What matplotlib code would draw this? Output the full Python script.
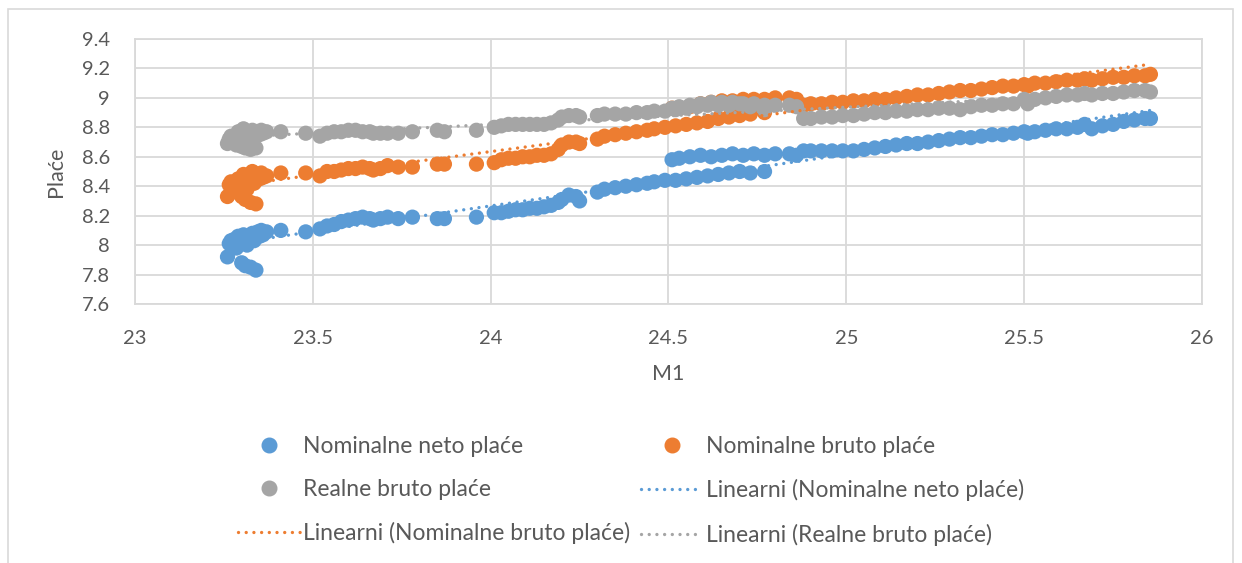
import numpy as np
import matplotlib
matplotlib.use('Agg')
import matplotlib.pyplot as plt
from matplotlib.lines import Line2D
from matplotlib.patches import Rectangle

plt.rcParams['font.family'] = ['Lato', 'DejaVu Sans']

# M1 (x) and the three wage series (y)
m1 = [23.26, 23.265, 23.27, 23.28, 23.285, 23.29, 23.30, 23.30, 23.305, 23.31, 23.315,
      23.32, 23.325, 23.33, 23.335, 23.34, 23.345, 23.35, 23.355, 23.36, 23.37,
      23.41, 23.48, 23.52, 23.54, 23.56, 23.58, 23.60, 23.62, 23.64, 23.66, 23.67,
      23.69, 23.71, 23.74, 23.78, 23.85, 23.87, 23.96,
      24.01, 24.03, 24.05, 24.07, 24.09, 24.11, 24.13, 24.15, 24.17, 24.19, 24.20,
      24.22, 24.24, 24.25, 24.30, 24.32, 24.35, 24.38, 24.41, 24.44, 24.46, 24.49,
      24.52, 24.55, 24.58, 24.61, 24.64, 24.67, 24.70, 24.73, 24.77,
      24.51, 24.53, 24.56, 24.59, 24.62, 24.65, 24.68, 24.71, 24.74, 24.77, 24.80,
      24.84, 24.86,
      24.88, 24.90, 24.93, 24.96, 24.99, 25.02, 25.05, 25.08, 25.11, 25.14, 25.17,
      25.20, 25.23, 25.26, 25.29, 25.32, 25.35, 25.38, 25.41, 25.44, 25.47, 25.50,
      25.51, 25.53, 25.56, 25.59, 25.62, 25.65, 25.67, 25.69, 25.72, 25.75, 25.78,
      25.81, 25.84, 25.855]

neto = [7.92, 8.01, 8.03, 8.04, 7.98, 8.06, 7.88, 8.02, 8.07, 7.86, 8.00,
        8.05, 7.85, 8.08, 8.03, 7.83, 8.09, 8.06, 8.10, 8.07, 8.09,
        8.10, 8.09, 8.11, 8.13, 8.14, 8.16, 8.17, 8.18, 8.19, 8.18, 8.17,
        8.18, 8.19, 8.18, 8.19, 8.18, 8.18, 8.19,
        8.22, 8.22, 8.23, 8.24, 8.24, 8.25, 8.25, 8.26, 8.27, 8.29, 8.31,
        8.34, 8.33, 8.30, 8.36, 8.38, 8.39, 8.40, 8.41, 8.42, 8.43, 8.44,
        8.44, 8.45, 8.46, 8.47, 8.48, 8.49, 8.50, 8.49, 8.50,
        8.58, 8.59, 8.60, 8.61, 8.60, 8.61, 8.62, 8.61, 8.62, 8.61, 8.62,
        8.62, 8.61,
        8.64, 8.64, 8.64, 8.64, 8.64, 8.64, 8.65, 8.66, 8.67, 8.68, 8.69,
        8.69, 8.70, 8.71, 8.72, 8.73, 8.73, 8.74, 8.75, 8.75, 8.76, 8.77,
        8.76, 8.77, 8.78, 8.79, 8.79, 8.80, 8.82, 8.79, 8.81, 8.82, 8.84,
        8.85, 8.86, 8.86]

bruto = [8.33, 8.41, 8.43, 8.40, 8.36, 8.45, 8.33, 8.39, 8.48, 8.31, 8.38,
         8.44, 8.29, 8.50, 8.42, 8.28, 8.47, 8.45, 8.49, 8.46, 8.47,
         8.49, 8.49, 8.47, 8.50, 8.50, 8.51, 8.52, 8.52, 8.53, 8.52, 8.51,
         8.52, 8.54, 8.53, 8.53, 8.55, 8.55, 8.55,
         8.56, 8.58, 8.59, 8.59, 8.60, 8.60, 8.61, 8.61, 8.62, 8.65, 8.68,
         8.70, 8.70, 8.69, 8.72, 8.74, 8.75, 8.76, 8.77, 8.78, 8.79, 8.80,
         8.81, 8.82, 8.83, 8.84, 8.86, 8.87, 8.88, 8.89, 8.90,
         8.93, 8.93, 8.94, 8.96, 8.97, 8.98, 8.98, 8.99, 8.99, 8.99, 9.00,
         9.00, 8.99,
         8.95, 8.96, 8.96, 8.97, 8.97, 8.98, 8.98, 8.99, 8.99, 9.00, 9.01,
         9.02, 9.02, 9.03, 9.04, 9.05, 9.05, 9.06, 9.07, 9.08, 9.08, 9.09,
         9.08, 9.10, 9.10, 9.11, 9.12, 9.12, 9.13, 9.12, 9.13, 9.14, 9.14,
         9.15, 9.15, 9.16]

realne = [8.69, 8.72, 8.74, 8.70, 8.68, 8.77, 8.67, 8.73, 8.79, 8.66, 8.72,
          8.76, 8.65, 8.78, 8.74, 8.66, 8.77, 8.75, 8.78, 8.76, 8.77,
          8.77, 8.76, 8.74, 8.76, 8.77, 8.77, 8.78, 8.78, 8.77, 8.77, 8.76,
          8.76, 8.76, 8.76, 8.77, 8.78, 8.77, 8.78,
          8.80, 8.81, 8.82, 8.82, 8.82, 8.82, 8.82, 8.82, 8.83, 8.85, 8.87,
          8.88, 8.88, 8.87, 8.88, 8.89, 8.89, 8.89, 8.90, 8.90, 8.91, 8.91,
          8.92, 8.93, 8.94, 8.95, 8.95, 8.95, 8.96, 8.94, 8.92,
          8.93, 8.94, 8.95, 8.96, 8.97, 8.97, 8.97, 8.96, 8.96, 8.95, 8.95,
          8.95, 8.94,
          8.86, 8.86, 8.87, 8.87, 8.88, 8.88, 8.89, 8.90, 8.90, 8.91, 8.91,
          8.92, 8.92, 8.93, 8.93, 8.92, 8.94, 8.95, 8.95, 8.96, 8.96, 8.99,
          8.96, 8.99, 9.00, 9.01, 9.02, 9.02, 9.03, 9.02, 9.03, 9.03, 9.04,
          9.05, 9.05, 9.04]

names = ['Nominalne neto plaće', 'Nominalne bruto plaće', 'Realne bruto plaće']
colors = ['#5B9BD5', '#ED7D31', '#A5A5A5']
x_ticks = [23, 23.5, 24, 24.5, 25, 25.5, 26]
y_ticks = [7.6, 7.8, 8, 8.2, 8.4, 8.6, 8.8, 9, 9.2, 9.4]

txt = '#595959'
grid = '#D9D9D9'
dots = (0, (0.01, 2.3))

fig = plt.figure(figsize=(12.42, 5.63), dpi=100)
ax = fig.add_axes([135/1242, 1-304/563, (1202-135)/1242, (304-39)/563])

x = np.array(m1)
series = [neto, bruto, realne]
for ys, c in zip(series, colors):
    ax.scatter(x, ys, s=120, color=c, edgecolors='none', zorder=3)

for ys, c in zip(series, colors):
    k, b = np.polyfit(x, ys, 1)
    xs = np.array([x.min(), x.max()])
    ax.plot(xs, k*xs + b, color=c, lw=2.4, linestyle=dots,
            dash_capstyle='round', zorder=4)

ax.set_xlim(23, 26)
ax.set_ylim(7.6, 9.4)
ax.set_xticks(x_ticks)
ax.set_yticks(y_ticks)
ax.set_xticklabels(['%g' % t for t in x_ticks])
ax.set_yticklabels(['%g' % t for t in y_ticks])
ax.tick_params(length=0, labelsize=14.5, colors=txt)
ax.tick_params(axis='y', pad=18)
ax.tick_params(axis='x', pad=19)
ax.grid(True, color=grid, lw=1.3)
ax.set_axisbelow(True)
for s in ax.spines.values():
    s.set_color(grid)
    s.set_linewidth(1.3)
ax.set_xlabel('M1', fontsize=15.5, color=txt, labelpad=12)
ax.set_ylabel('Plaće', fontsize=15.5, color=txt, labelpad=11)

# legend, filled column by column
mk = [Line2D([], [], ls='none', marker='o', ms=10.5, color=c, mec=c) for c in colors]
ln = [Line2D([], [], color=c, lw=2.4, linestyle=dots, dash_capstyle='round') for c in colors]
lab = ['Linearni (' + n + ')' for n in names]
handles = [mk[0], mk[2], ln[1], mk[1], ln[0], ln[2]]
labels = [names[0], names[2], lab[1], names[1], lab[0], lab[2]]
fig.legend(handles, labels, loc='center', bbox_to_anchor=(0.508, 0.128), ncol=2,
           frameon=False, fontsize=16.5, labelcolor=txt, handlelength=2.7,
           handletextpad=0.15, columnspacing=0.45, labelspacing=0.96)

fig.patches.append(Rectangle((8/1242, -0.05), (1233-8)/1242, 1.05 - 9/563,
                             transform=fig.transFigure, fill=False,
                             edgecolor=grid, lw=1.2))

fig.savefig('out.png', dpi=100)
